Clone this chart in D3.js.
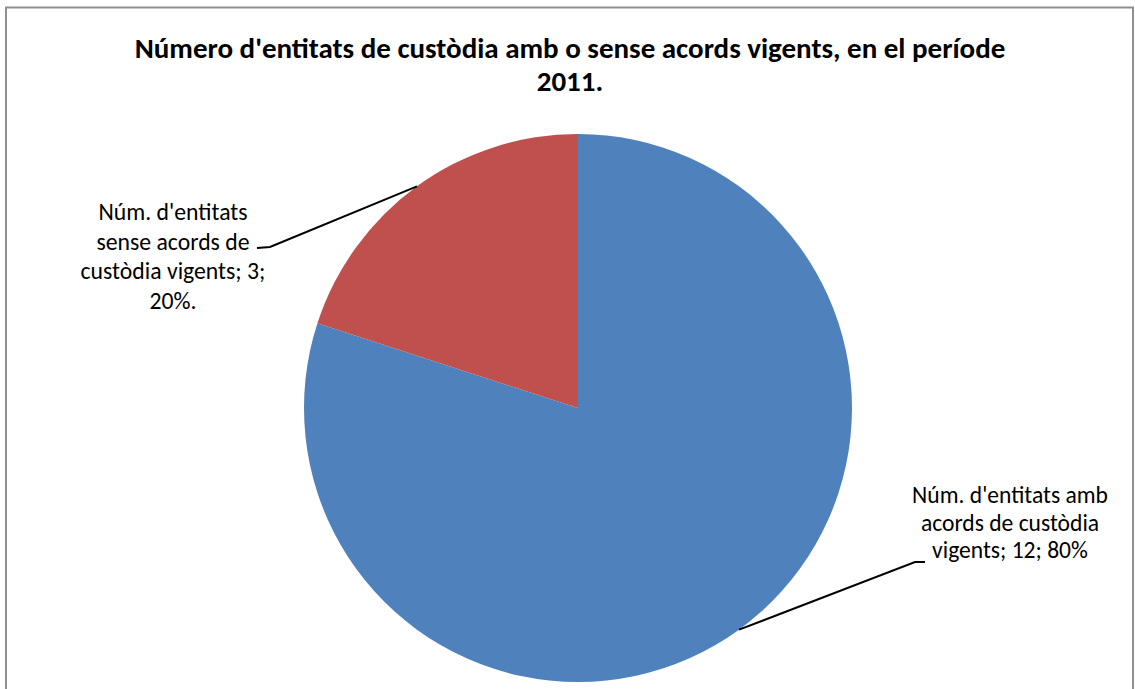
<!DOCTYPE html>
<html><head><meta charset="utf-8">
<script src="https://cdn.jsdelivr.net/npm/d3@7"></script>
<style>body{margin:0;background:#fff}svg{display:block}</style>
</head><body>
<svg id="c" width="1135" height="689"></svg>
<script>
const categories = ["Núm. d'entitats amb acords de custòdia vigents", "Núm. d'entitats sense acords de custòdia vigents"];
const values = [12, 3];
const colors = ["#4F81BD", "#C0504D"];
const titleLines = ["Número d'entitats de custòdia amb o sense acords vigents, en el període", "2011."];
const labelLines = [
  ["Núm. d'entitats amb", "acords de custòdia", "vigents; 12; 80%"],
  ["Núm. d'entitats", "sense acords de", "custòdia vigents; 3;", "20%."]
];

const svg = d3.select("#c");
const FONT = "Carlito, Lato, 'Open Sans', sans-serif";

svg.append("rect").attr("x", 6).attr("y", 7.5).attr("width", 1127).attr("height", 700)
  .attr("fill", "#fff").attr("stroke", "#8f8f8f").attr("stroke-width", 2);

function fitGroup(g, refIndex, target) {
  const texts = g.selectAll("text").nodes();
  const len = texts[refIndex].getComputedTextLength();
  const fs = 20 * target / len;
  g.selectAll("text").attr("font-size", fs);
}

// Title
const tg = svg.append("g").attr("font-family", FONT).attr("font-weight", "bold").attr("fill", "#000");
tg.selectAll("text").data(titleLines).join("text")
  .attr("x", 570).attr("y", (d, i) => 58 + i * 33)
  .attr("text-anchor", "middle").attr("font-size", 20).text(d => d);
fitGroup(tg, 0, 871);

// Pie
const cx = 578, cy = 408, r = 274;
const pie = d3.pie().sort(null).value(d => d);
const arcs = pie(values);
const arc = d3.arc().innerRadius(0).outerRadius(r);
const pg = svg.append("g").attr("transform", `translate(${cx},${cy})`);
pg.selectAll("path").data(arcs).join("path")
  .attr("d", arc).attr("fill", (d, i) => colors[i]);

// Labels
const labelCfg = [
  { x: 1010, y0: 503, dy: 27.5, ref: 0, w: 196, elbow: [915, 562], end: [925, 562] },
  { x: 173, y0: 220, dy: 29.5, ref: 2, w: 185, elbow: [270, 247], end: [257, 248] }
];
arcs.forEach((a, i) => {
  const cfg = labelCfg[i];
  const mid = (a.startAngle + a.endAngle) / 2;
  const sx = cx + r * Math.sin(mid), sy = cy - r * Math.cos(mid);
  svg.append("polyline")
    .attr("points", [[sx, sy], cfg.elbow, cfg.end].map(p => p.join(",")).join(" "))
    .attr("fill", "none").attr("stroke", "#000").attr("stroke-width", 2);
  const lg = svg.append("g").attr("font-family", FONT).attr("fill", "#000");
  lg.selectAll("text").data(labelLines[i]).join("text")
    .attr("x", cfg.x).attr("y", (d, j) => cfg.y0 + j * cfg.dy)
    .attr("text-anchor", "middle").attr("font-size", 20).text(d => d);
  fitGroup(lg, cfg.ref, cfg.w);
});
</script>
</body></html>
